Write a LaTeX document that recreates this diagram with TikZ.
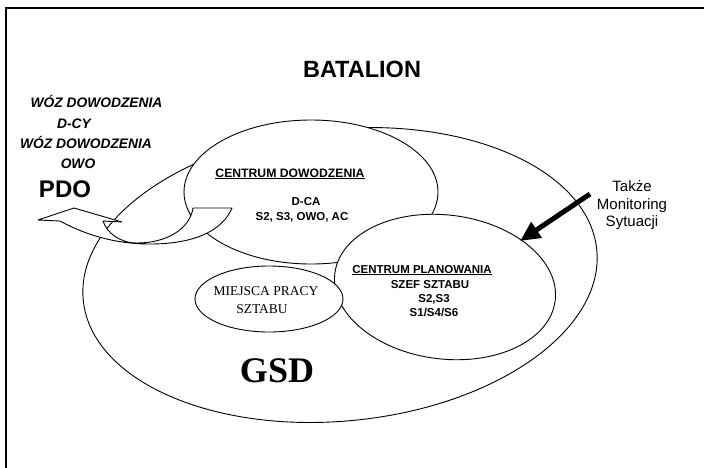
\documentclass[tikz,border=0pt]{standalone}
\usepackage{fontspec}
\setmainfont{Liberation Serif}
\setsansfont{Liberation Sans}
\usetikzlibrary{shapes.geometric,arrows.meta}

\tikzset{
  region/.style={draw, ellipse, fill=white, line width=0.9pt, inner sep=0pt, outer sep=0pt},
  titletxt/.style={font=\sffamily\bfseries\fontsize{23.5}{28}\selectfont, inner sep=0pt, anchor=base},
  cartxt/.style={font=\sffamily\bfseries\itshape\fontsize{13.8}{15}\selectfont, inner sep=0pt, anchor=base},
  posttxt/.style={font=\sffamily\bfseries\fontsize{24}{28}\selectfont, inner sep=0pt, anchor=base},
  celltxt/.style={font=\sffamily\bfseries\fontsize{11.5}{13}\selectfont, inner sep=0pt, anchor=base},
  cdtitle/.style={font=\sffamily\bfseries\fontsize{12.2}{13}\selectfont, inner sep=0pt, anchor=base},
  stafftxt/.style={font=\rmfamily\fontsize{13.5}{16}\selectfont, inner sep=0pt, anchor=base},
  gsdtxt/.style={font=\rmfamily\bfseries\fontsize{36}{40}\selectfont, inner sep=0pt, anchor=base},
  notetxt/.style={font=\sffamily\fontsize{15}{17.5}\selectfont, inner sep=0pt, align=center},
  ribbon/.style={draw, fill=white, line width=0.9pt, line join=round},
  pointer/.style={line width=5pt, -{Triangle[length=20pt,width=18pt]}}
}

\begin{document}
\begin{tikzpicture}[x=1pt, y=-1pt]
  \useasboundingbox (0,0) rectangle (704,467);

  % frame
  \draw[line width=1.6pt] (6,480) -- (6,8) -- (710,8);

  % nested areas
  \node[region, minimum width=516pt, minimum height=292pt, rotate=5.6] (gsd) at (340,275) {};
  \node[region, minimum width=254pt, minimum height=144pt] (cd) at (311,192) {};
  \node[region, minimum width=222pt, minimum height=144pt, rotate=-7] (cp) at (445,287) {};
  \node[region, minimum width=148pt, minimum height=66pt] (mps) at (269,299) {};

  % curved ribbon arrow leaving the command centre
  \path[ribbon]
    (38,220) -- (60,221)
    .. controls (82,233) and (112,244) .. (150,244)
    .. controls (192,244) and (222,232) .. (232,208)
    -- (193,208)
    .. controls (190,228) and (168,243) .. (137,243)
    .. controls (120,243) and (107,233) .. (103,221)
    -- (122,222) -- (74,208) -- cycle;

  % labels
  \node[titletxt] (bat) at (362,77) {BATALION};

  \node[cartxt] (woz1) at (96.5,107) {WÓZ DOWODZENIA};
  \node[cartxt] (dcy) at (74,128) {D-CY};
  \node[cartxt] (woz2) at (86,148) {WÓZ DOWODZENIA};
  \node[cartxt] (owo) at (78,168) {OWO};
  \node[posttxt] (pdo) at (65,197) {PDO};

  \node[cdtitle] (cdt) at (290,177) {\underline{CENTRUM DOWODZENIA}};
  \node[celltxt] (cda) at (306,205) {D-CA};
  \node[celltxt] (cdb) at (302,220) {S2, S3, OWO, AC};

  \node[celltxt] (cpt) at (422,273) {\underline{CENTRUM PLANOWANIA}};
  \node[celltxt] (cpa) at (430,288) {SZEF SZTABU};
  \node[celltxt] (cpb) at (434,302) {S2,S3};
  \node[celltxt] (cpc) at (434,316) {S1/S4/S6};

  \node[stafftxt] (mpa) at (266,295) {MIEJSCA PRACY};
  \node[stafftxt] (mpb) at (262,313) {SZTABU};

  \node[gsdtxt] (gsdt) at (277,382) {GSD};

  \node[notetxt] (note) at (632,205.5) {Także\\Monitoring\\Sytuacji};

  % monitoring pointer
  \coordinate (ptail) at (590,194);
  \coordinate (phead) at (520,241);
  \draw[pointer] (ptail) -- (phead);
\end{tikzpicture}
\end{document}
